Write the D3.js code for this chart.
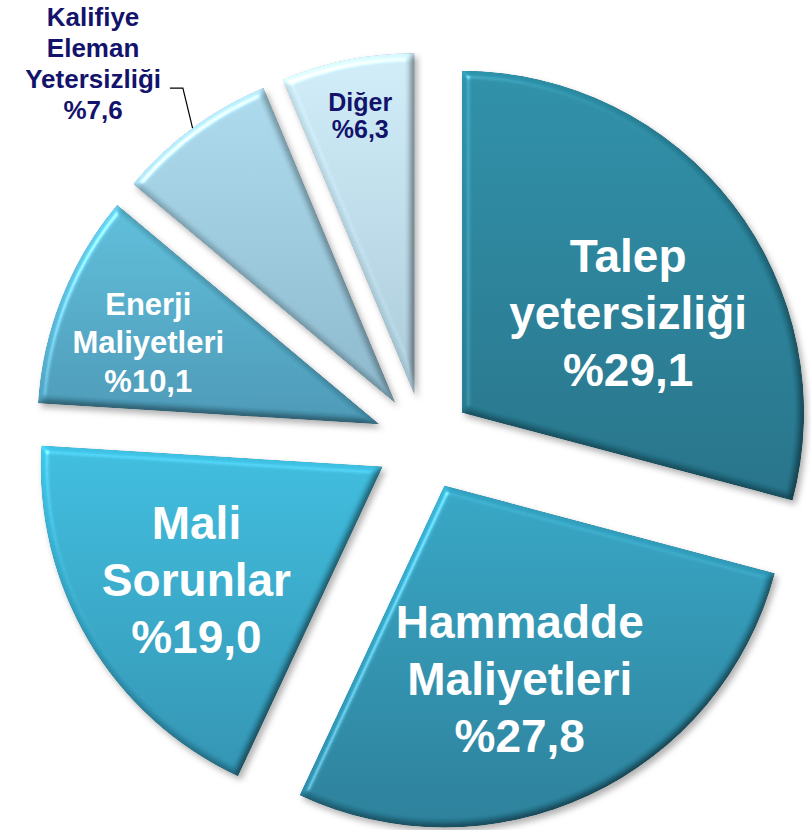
<!DOCTYPE html>
<html><head><meta charset="utf-8">
<script src="https://cdn.jsdelivr.net/npm/d3@7"></script>
<style>html,body{margin:0;padding:0;background:#fff;} svg{display:block;}</style>
</head><body><div id="chart"></div>
<script>
// ---- data ----
const categories = ["Talep yetersizliği", "Hammadde Maliyetleri", "Mali Sorunlar", "Enerji Maliyetleri", "Kalifiye Eleman Yetersizliği", "Diğer"];
const values = [29.1, 27.8, 19.0, 10.1, 7.6, 6.3];
const labelLines = [["Talep", "yetersizliği"], ["Hammadde", "Maliyetleri"], ["Mali", "Sorunlar"], ["Enerji", "Maliyetleri"], ["Kalifiye", "Eleman", "Yetersizliği"], ["Diğer"]];
const valueLabels = values.map(v => "%" + v.toFixed(1).replace(".", ","));

// ---- styles / layout ----
const colorsTop = ["#2b8ca4", "#33a2c1", "#3cb9da", "#5bbad6", "#a8d6e8", "#cbe8f3"];
const colorsBottom = ["#236f85", "#287b95", "#2f8fad", "#4894b1", "#88b3c7", "#a6c5d4"];
const textColors = ["#fff", "#fff", "#fff", "#fff", "#13136b", "#13136b"];
const fontSizes = [46, 46, 46, 31, 26, 25];
const lineHeights = [57, 57, 57, 38.5, 31, 27];
const labelAngleShift = [6.5, 3.75, -0.5, -2.2, -5.2, 0.35]; // degrees
const labelRadiusFrac = [0.567, 0.607, 0.637, 0.717, 1.332, 0.832];

const W = 811, H = 830, cx = 424, cy = 442, R = 342, explode = 48;

const svg = d3.select("#chart").append("svg").attr("width", W).attr("height", H);
svg.append("rect").attr("width", W).attr("height", H).attr("fill", "#fff");
const defs = svg.append("defs");

// bevel + shadow filter
const f = defs.append("filter").attr("id", "bevel")
  .attr("x", "-10%").attr("y", "-10%").attr("width", "125%").attr("height", "125%")
  .attr("color-interpolation-filters", "sRGB");
f.append("feGaussianBlur").attr("in", "SourceAlpha").attr("stdDeviation", 3.5).attr("result", "blur");
const dl = f.append("feDiffuseLighting").attr("in", "blur").attr("surfaceScale", 5)
  .attr("diffuseConstant", 1).attr("lighting-color", "#fff").attr("result", "diff");
dl.append("feDistantLight").attr("azimuth", 225).attr("elevation", 50);
f.append("feComposite").attr("in", "SourceGraphic").attr("in2", "diff").attr("operator", "arithmetic")
  .attr("k1", 0.6).attr("k2", 0.54).attr("k3", 0).attr("k4", 0).attr("result", "shaded");
const sl = f.append("feSpecularLighting").attr("in", "blur").attr("surfaceScale", 5)
  .attr("specularConstant", 0.3).attr("specularExponent", 40).attr("lighting-color", "#fff").attr("result", "spec");
sl.append("feDistantLight").attr("azimuth", 225).attr("elevation", 50);
f.append("feComposite").attr("in", "spec").attr("in2", "SourceAlpha").attr("operator", "in").attr("result", "specIn");
f.append("feComposite").attr("in", "shaded").attr("in2", "specIn").attr("operator", "arithmetic")
  .attr("k1", 0).attr("k2", 1).attr("k3", 1).attr("k4", 0).attr("result", "lit");
f.append("feComposite").attr("in", "lit").attr("in2", "SourceAlpha").attr("operator", "in").attr("result", "litIn");
f.append("feGaussianBlur").attr("in", "SourceAlpha").attr("stdDeviation", 3).attr("result", "sb");
f.append("feOffset").attr("in", "sb").attr("dx", 3).attr("dy", 4).attr("result", "so");
f.append("feFlood").attr("flood-color", "#000").attr("flood-opacity", 0.3).attr("result", "sc");
f.append("feComposite").attr("in", "sc").attr("in2", "so").attr("operator", "in").attr("result", "shadow");
const mg = f.append("feMerge");
mg.append("feMergeNode").attr("in", "shadow");
mg.append("feMergeNode").attr("in", "litIn");

// gradients
categories.forEach((c, i) => {
  const g = defs.append("linearGradient").attr("id", "grad" + i)
    .attr("x1", 0).attr("y1", 0).attr("x2", 0).attr("y2", 1);
  g.append("stop").attr("offset", "0%").attr("stop-color", colorsTop[i]);
  g.append("stop").attr("offset", "100%").attr("stop-color", colorsBottom[i]);
});

const pie = d3.pie().sort(null).value(d => d).startAngle(0).endAngle(2 * Math.PI);
const arcs = pie(values);
const arc = d3.arc().innerRadius(0).outerRadius(R);

const root = svg.append("g").attr("transform", `translate(${cx},${cy})`);

const polar = (ang, r) => [Math.sin(ang) * r, -Math.cos(ang) * r];

const slices = root.selectAll("g.slice").data(arcs).enter().append("g")
  .attr("class", "slice")
  .attr("transform", d => {
    const mid = (d.startAngle + d.endAngle) / 2;
    const [x, y] = polar(mid, explode);
    return `translate(${x},${y})`;
  });

slices.append("path")
  .attr("d", arc)
  .attr("fill", (d, i) => `url(#grad${i})`)
  .attr("filter", "url(#bevel)");

// leader line for Kalifiye (outside label)
const kIdx = 4;
{
  const d = arcs[kIdx];
  const mid = (d.startAngle + d.endAngle) / 2;
  const p0 = polar(mid, R);
  const p1 = polar(mid + 2.4 * Math.PI / 180, R * 1.112);
  const p2 = [p1[0] - 13, p1[1]];
  slices.filter((dd, i) => i === kIdx).append("polyline")
    .attr("points", [p0, p1, p2].map(p => p.join(",")).join(" "))
    .attr("fill", "none").attr("stroke", "#000").attr("stroke-width", 1.2);
}

// labels
slices.each(function (d, i) {
  const mid = (d.startAngle + d.endAngle) / 2 + labelAngleShift[i] * Math.PI / 180;
  const [lx, ly] = polar(mid, R * labelRadiusFrac[i]);
  const lines = labelLines[i].concat([valueLabels[i]]);
  const fs = fontSizes[i], lh = lineHeights[i];
  const firstBase = ly - (lines.length - 1) * lh / 2 + fs * 0.716 / 2;
  const t = d3.select(this).append("text")
    .attr("text-anchor", "middle")
    .attr("font-family", "'Liberation Sans', Arial, sans-serif")
    .attr("font-weight", "bold")
    .attr("font-size", fs)
    .attr("fill", textColors[i]);
  lines.forEach((ln, k) => {
    t.append("tspan").attr("x", lx).attr("y", firstBase + k * lh).text(ln);
  });
});
</script>
</body></html>
